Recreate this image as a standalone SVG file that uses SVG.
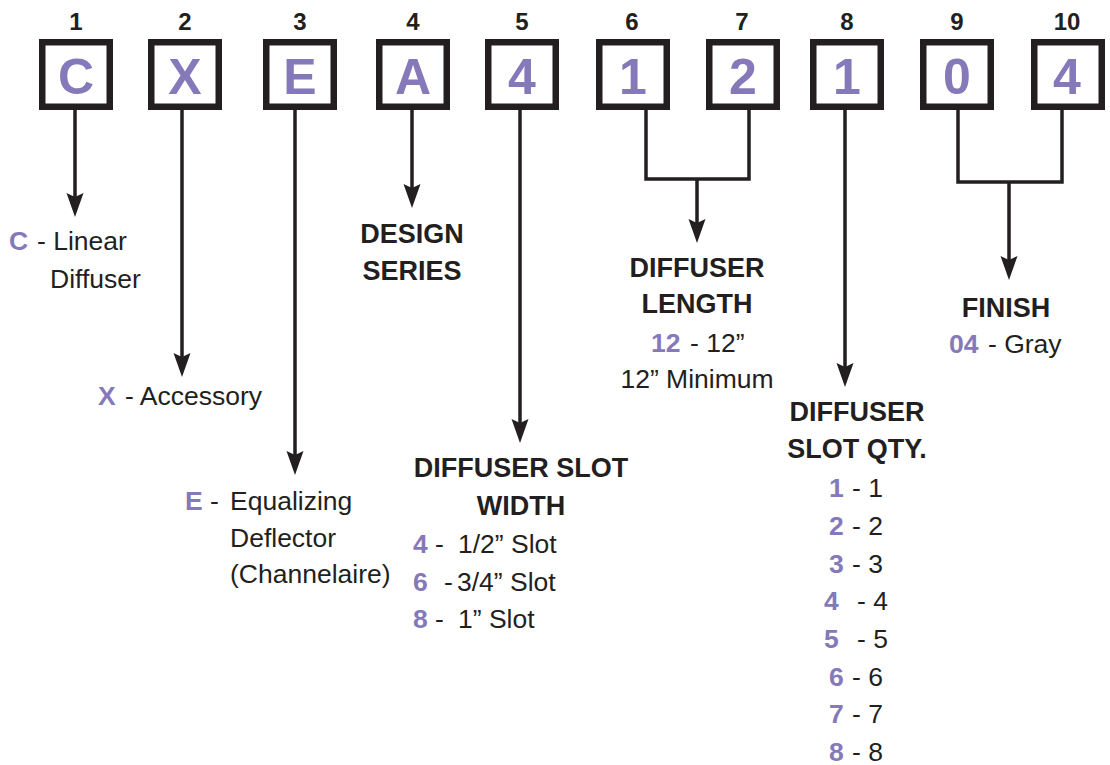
<svg xmlns="http://www.w3.org/2000/svg" xmlns:xlink="http://www.w3.org/1999/xlink" width="1110" height="765" viewBox="0 0 1110 765">
<style>
.box{fill:#fff;stroke:#231f20;stroke-width:6.5}
.num{font-family:"Liberation Sans",Arial,sans-serif;font-weight:bold;font-size:24px;fill:#231f20;text-anchor:middle}
.let{font-family:"Liberation Sans",Arial,sans-serif;font-weight:bold;font-size:50px;fill:#8579ba;text-anchor:middle}
.t{font-family:"Liberation Sans",Arial,sans-serif;font-size:26.5px;fill:#231f20}
.h{font-family:"Liberation Sans",Arial,sans-serif;font-weight:bold;font-size:27px;fill:#231f20;text-anchor:middle}
.p{font-weight:bold;fill:#8579ba}
.ln{fill:none;stroke:#231f20;stroke-width:3.5}
.ah{fill:#231f20}
</style>
<defs>
<path id="ah" class="ah" d="M0,0 L-8.5,-24 L0,-20 L8.5,-24 Z"/>
</defs>
<rect width="1110" height="765" fill="#fff"/>

<g id="box1"><text class="num" x="76" y="30">1</text><rect class="box" x="42.25" y="42.25" width="67.5" height="64.5"/><text class="let" x="76" y="94">C</text></g>
<g id="box2"><text class="num" x="185" y="30">2</text><rect class="box" x="151.25" y="42.25" width="67.5" height="64.5"/><text class="let" x="185" y="94">X</text></g>
<g id="box3"><text class="num" x="300" y="30">3</text><rect class="box" x="266.25" y="42.25" width="67.5" height="64.5"/><text class="let" x="300" y="94">E</text></g>
<g id="box4"><text class="num" x="413" y="30">4</text><rect class="box" x="379.25" y="42.25" width="67.5" height="64.5"/><text class="let" x="413" y="94">A</text></g>
<g id="box5"><text class="num" x="522" y="30">5</text><rect class="box" x="488.25" y="42.25" width="67.5" height="64.5"/><text class="let" x="522" y="94">4</text></g>
<g id="box6"><text class="num" x="632" y="30">6</text><rect class="box" x="599.25" y="42.25" width="67.5" height="64.5"/><text class="let" x="633" y="94">1</text></g>
<g id="box7"><text class="num" x="742" y="30">7</text><rect class="box" x="709.25" y="42.25" width="67.5" height="64.5"/><text class="let" x="743" y="94">2</text></g>
<g id="box8"><text class="num" x="847" y="30">8</text><rect class="box" x="813.25" y="42.25" width="67.5" height="64.5"/><text class="let" x="847" y="94">1</text></g>
<g id="box9"><text class="num" x="957" y="30">9</text><rect class="box" x="923.25" y="42.25" width="67.5" height="64.5"/><text class="let" x="957" y="94">0</text></g>
<g id="box10"><text class="num" x="1067" y="30">10</text><rect class="box" x="1034.25" y="42.25" width="67.5" height="64.5"/><text class="let" x="1067" y="94">4</text></g>

<g id="connectors">
<path class="ln" d="M75,110 V198"/><use xlink:href="#ah" x="75" y="217"/>
<path class="ln" d="M182,110 V358"/><use xlink:href="#ah" x="182" y="377"/>
<path class="ln" d="M295,110 V456"/><use xlink:href="#ah" x="295" y="475"/>
<path class="ln" d="M412,110 V189"/><use xlink:href="#ah" x="412" y="208"/>
<path class="ln" d="M520,110 V424"/><use xlink:href="#ah" x="520" y="443"/>
<path class="ln" d="M646,110 V179 H749 V110 M697,179 V224"/><use xlink:href="#ah" x="697" y="243"/>
<path class="ln" d="M845,110 V368"/><use xlink:href="#ah" x="845" y="387"/>
<path class="ln" d="M958,110 V182 H1062 V110 M1009,182 V261"/><use xlink:href="#ah" x="1009" y="280"/>
</g>

<g id="label1">
<text class="t" y="250"><tspan class="p" x="9">C</tspan><tspan x="37">- Linear</tspan></text>
<text class="t" x="50" y="288">Diffuser</text>
</g>
<g id="label2">
<text class="t" y="405"><tspan class="p" x="98">X</tspan><tspan x="125">- Accessory</tspan></text>
</g>
<g id="label3">
<text class="t" y="510"><tspan class="p" x="185">E</tspan><tspan x="210">-</tspan><tspan x="230">Equalizing</tspan></text>
<text class="t" x="230" y="547">Deflector</text>
<text class="t" x="230" y="583">(Channelaire)</text>
</g>
<g id="label4">
<text class="h" x="412" y="243">DESIGN</text>
<text class="h" x="412" y="280">SERIES</text>
</g>
<g id="label5">
<text class="h" x="521" y="477">DIFFUSER SLOT</text>
<text class="h" x="521" y="515">WIDTH</text>
<text class="t" y="553"><tspan class="p" x="413">4</tspan><tspan x="435">-</tspan><tspan x="458">1/2” Slot</tspan></text>
<text class="t" y="591"><tspan class="p" x="413">6</tspan><tspan x="444">-</tspan><tspan x="457">3/4” Slot</tspan></text>
<text class="t" y="628"><tspan class="p" x="413">8</tspan><tspan x="435">-</tspan><tspan x="458">1” Slot</tspan></text>
</g>
<g id="label67">
<text class="h" x="697" y="277">DIFFUSER</text>
<text class="h" x="697" y="313">LENGTH</text>
<text class="t" y="352"><tspan class="p" x="651">12</tspan><tspan x="690">- 12”</tspan></text>
<text class="t" x="697" y="388" text-anchor="middle">12” Minimum</text>
</g>
<g id="label8">
<text class="h" x="857" y="421">DIFFUSER</text>
<text class="h" x="857" y="458">SLOT QTY.</text>
<text class="t" y="497"><tspan class="p" x="829">1</tspan><tspan x="852">- 1</tspan></text>
<text class="t" y="535"><tspan class="p" x="829">2</tspan><tspan x="852">- 2</tspan></text>
<text class="t" y="573"><tspan class="p" x="829">3</tspan><tspan x="852">- 3</tspan></text>
<text class="t" y="610"><tspan class="p" x="824">4</tspan><tspan x="857">- 4</tspan></text>
<text class="t" y="648"><tspan class="p" x="824">5</tspan><tspan x="857">- 5</tspan></text>
<text class="t" y="686"><tspan class="p" x="829">6</tspan><tspan x="852">- 6</tspan></text>
<text class="t" y="723"><tspan class="p" x="829">7</tspan><tspan x="852">- 7</tspan></text>
<text class="t" y="761"><tspan class="p" x="829">8</tspan><tspan x="852">- 8</tspan></text>
</g>
<g id="label910">
<text class="h" x="1006" y="317">FINISH</text>
<text class="t" y="353"><tspan class="p" x="949">04</tspan><tspan x="988">- Gray</tspan></text>
</g>
</svg>
